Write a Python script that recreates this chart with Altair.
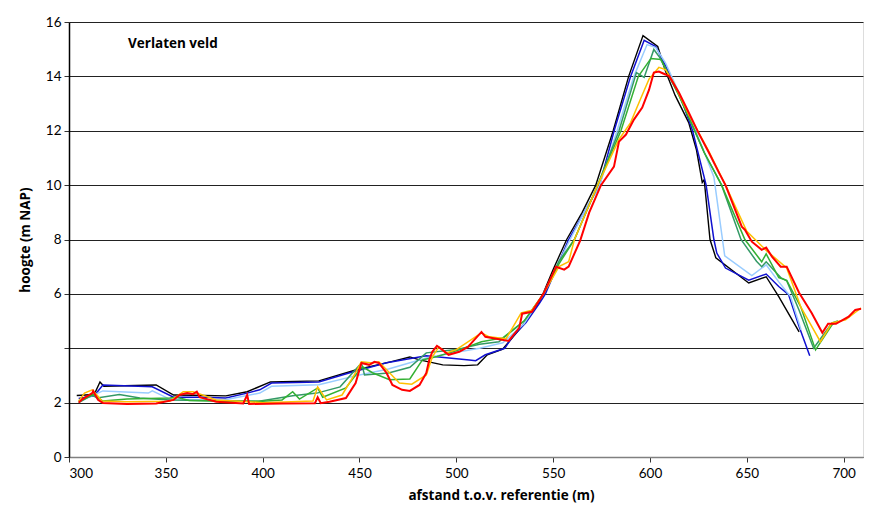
import altair as alt
import pandas as pd

# ---- data ----
series_names = ["s1", "s2", "s3", "s4", "s5", "s6", "s7"]
series_colors = ["#000000", "#1010D0", "#99CCFF", "#339966", "#33B033", "#FFC000", "#FF0000"]

black_x = [304, 313, 316, 318, 345, 354, 364, 381, 392, 404, 429, 448, 466, 476, 481, 493, 504, 511, 516, 524, 535, 543, 550, 557, 565, 572, 581, 589, 596.4, 604, 608, 613, 620, 624, 627, 628, 631, 634, 651, 660, 666.5, 677]
black_y = [2.26, 2.3, 2.76, 2.6, 2.65, 2.28, 2.27, 2.25, 2.4, 2.76, 2.8, 3.2, 3.5, 3.68, 3.57, 3.39, 3.36, 3.39, 3.76, 3.97, 4.9, 5.7, 6.9, 8.0, 9.0, 10.0, 12.0, 14.0, 15.5, 15.1, 14.2, 13.3, 12.3, 11.3, 10.1, 10.2, 8.0, 7.33, 6.4, 6.63, 5.9, 4.6]

blue_x = [305, 313, 317.5, 343, 354, 369, 381, 392, 398.5, 404.6, 429, 445, 464, 484.5, 506.7, 510, 515, 525, 529, 536, 543, 546, 558, 566, 574, 581.5, 590, 597, 603, 608, 616, 622, 629, 633, 634.5, 639, 651, 660, 666.5, 671.6, 677, 682.5]
blue_y = [2.15, 2.25, 2.65, 2.58, 2.2, 2.2, 2.17, 2.35, 2.47, 2.72, 2.76, 3.1, 3.47, 3.72, 3.57, 3.54, 3.76, 4.0, 4.42, 4.95, 5.66, 6.0, 8.0, 9.0, 10.0, 12.0, 14.0, 15.33, 15.1, 14.4, 13.2, 12.0, 10.0, 8.0, 7.5, 6.95, 6.5, 6.73, 6.27, 5.97, 4.8, 3.72]

lightblue_x = [305, 310, 317.5, 341, 343, 352, 370, 380, 398.5, 404.6, 429, 450, 465, 484.5, 500, 512, 524, 535, 545, 558, 566, 574, 583, 591.7, 598.5, 603, 608, 615, 620, 627, 633, 638.6, 652.6, 660, 666.5, 672.6, 678]
lightblue_y = [2.05, 2.2, 2.43, 2.35, 2.43, 2.13, 2.1, 2.1, 2.35, 2.6, 2.66, 3.02, 3.24, 3.64, 3.85, 4.0, 4.2, 4.9, 6.0, 7.9, 9.0, 10.0, 12.0, 14.0, 15.17, 15.06, 14.5, 13.4, 12.6, 11.4, 10.3, 7.4, 6.67, 7.07, 6.44, 5.9, 4.68]

teal_x = [305, 312, 314.5, 326, 336.6, 352, 370, 398, 415.5, 428, 440, 451, 452.6, 465, 476, 484.5, 500, 512, 522, 535, 545, 553, 561, 567, 573, 584, 593, 597, 602, 605, 610, 615, 620, 628, 637, 647, 655, 657.7, 660, 667.5, 670.6, 677, 684.5, 694, 697]
teal_y = [2.0, 2.28, 2.17, 2.3, 2.17, 2.1, 2.08, 2.05, 2.25, 2.35, 2.58, 3.46, 3.02, 3.09, 3.3, 3.83, 3.95, 4.15, 4.24, 5.0, 6.0, 7.2, 8.0, 9.0, 10.0, 12.0, 14.14, 13.96, 14.99, 14.7, 14.0, 13.3, 12.5, 11.2, 10.0, 8.0, 7.2, 7.0, 7.18, 6.6, 6.48, 5.4, 4.0, 4.93, 5.0]

green_x = [305, 312.6, 317.5, 330, 352, 355.6, 362, 380, 400, 410, 415.5, 419, 428.4, 431, 443, 450, 451.6, 456.7, 465.5, 476, 482.5, 490, 501.5, 513, 524, 535, 545, 553, 561, 567, 573, 585, 594, 600.5, 605.7, 610, 615, 620, 628, 637, 649, 657.7, 660, 666.5, 670.6, 678, 685.5, 694, 697]
green_y = [2.05, 2.3, 2.06, 2.13, 2.17, 2.2, 2.08, 2.05, 2.05, 2.1, 2.4, 2.13, 2.54, 2.2, 2.54, 3.2, 3.32, 3.1, 2.84, 2.87, 3.57, 3.7, 3.94, 4.24, 4.38, 5.0, 6.0, 7.1, 8.0, 9.0, 10.0, 12.0, 14.0, 14.66, 14.62, 14.0, 13.3, 12.5, 11.2, 10.0, 8.0, 7.18, 7.47, 6.6, 6.5, 5.5, 3.94, 4.86, 5.0]

yellow_x = [305, 308, 312, 313, 317, 330, 352, 359, 364, 369, 376, 400, 426, 428.4, 433, 441, 448, 451, 456.7, 460, 465.5, 470.6, 477, 484.5, 487.6, 491, 494.8, 500, 513, 517, 525.7, 533.5, 539, 545, 553, 558, 561, 567, 573, 584, 590, 595, 599.5, 604.6, 608, 612, 620, 630, 639, 650, 660, 670.6, 678, 688, 694, 701, 709]
yellow_y = [2.05, 2.35, 2.47, 2.4, 2.06, 2.03, 2.05, 2.4, 2.4, 2.28, 2.1, 2.0, 2.06, 2.58, 2.1, 2.28, 3.1, 3.5, 3.46, 3.5, 3.1, 2.72, 2.68, 3.02, 3.68, 4.05, 3.83, 3.95, 4.57, 4.42, 4.35, 5.3, 5.4, 6.0, 7.0, 7.18, 8.0, 9.0, 10.0, 11.68, 12.3, 13.15, 13.9, 14.33, 14.25, 13.8, 12.6, 11.3, 10.0, 8.3, 7.6, 6.95, 5.5, 4.24, 4.93, 5.05, 5.48]

red_x = [305, 307, 312, 312.5, 315, 317.5, 330, 345, 354, 357, 361, 364, 366, 367.5, 376, 390, 392, 393, 410, 427, 428.4, 430, 434.5, 443, 448, 451, 455, 457.7, 460, 464, 467, 472, 476, 481, 484.5, 486, 487.6, 490, 492.8, 496, 501.5, 506, 513, 515, 520.6, 527, 532.5, 534, 539, 545, 551.5, 555.7, 558, 564, 568.6, 574.7, 581.4, 584, 587.6, 591.7, 596, 599.5, 602, 604.6, 608, 610, 615, 620, 625, 630.4, 635.6, 639, 647.4, 649, 652.6, 657.7, 660, 663, 667.5, 670.6, 677, 683.5, 689, 692, 696, 702.6, 706, 709]
red_y = [2.0, 2.13, 2.35, 2.43, 2.1, 1.99, 1.95, 1.97, 2.1, 2.28, 2.35, 2.31, 2.4, 2.2, 2.03, 1.97, 2.28, 1.95, 1.97, 1.98, 2.2, 1.98, 2.03, 2.17, 2.72, 3.46, 3.39, 3.5, 3.46, 3.09, 2.65, 2.47, 2.43, 2.65, 3.09, 3.57, 3.87, 4.09, 3.94, 3.76, 3.87, 4.05, 4.6, 4.42, 4.35, 4.27, 4.75, 5.27, 5.34, 6.0, 7.0, 6.89, 7.0, 7.97, 8.99, 10.0, 10.68, 11.6, 11.86, 12.41, 12.85, 13.5, 14.14, 14.18, 14.07, 14.0, 13.4, 12.67, 11.93, 11.2, 10.46, 10.0, 8.47, 8.36, 7.92, 7.62, 7.7, 7.37, 7.0, 7.0, 6.04, 5.3, 4.57, 4.9, 4.9, 5.16, 5.41, 5.45]

x_ticks = [300, 350, 400, 450, 500, 550, 600, 650, 700]
y_ticks = [0, 2, 4, 6, 8, 10, 12, 14, 16]

all_x = [black_x, blue_x, lightblue_x, teal_x, green_x, yellow_x, red_x]
all_y = [black_y, blue_y, lightblue_y, teal_y, green_y, yellow_y, red_y]
widths = [1.4, 1.5, 1.5, 1.5, 1.5, 1.5, 2]

FONT = "Lato"
TFONT = "Open Sans"

xscale = alt.Scale(domain=[300, 710], nice=False, zero=False)
yscale = alt.Scale(domain=[0, 16], nice=False)

xaxis = alt.Axis(values=x_ticks, title="afstand t.o.v. referentie (m)", grid=False,
                 domainColor="#808080", domainWidth=1.5, tickColor="#333333", tickSize=5,
                 labelFontSize=13.5, labelColor="#000000", labelPadding=4, labelFont=FONT,
                 titleFontSize=13.5, titleFontWeight="bold", titleColor="#000000",
                 titleFont=TFONT, titleX=432, titleY=31)
yaxis = alt.Axis(values=y_ticks, title="hoogte (m NAP)", grid=True, gridColor="#222222",
                 gridWidth=1, domainColor="#000000", domainWidth=1.5, tickColor="#333333",
                 tickSize=5, labelFontSize=13.5, labelColor="#000000", labelPadding=3,
                 labelFont=FONT,
                 labelExpr="datum.value == 4 ? '' : datum.label",
                 titleFontSize=13.5, titleFontWeight="bold", titleColor="#000000",
                 titleFont=TFONT, titlePadding=13)

layers = []
for i, (name, col, xs, ys, w) in enumerate(zip(series_names, series_colors, all_x, all_y, widths)):
    df = pd.DataFrame({"x": xs, "y": ys, "i": list(range(len(xs)))})
    enc = dict(
        x=alt.X("x:Q", scale=xscale, axis=xaxis),
        y=alt.Y("y:Q", scale=yscale, axis=yaxis),
        order="i:Q",
    )
    layers.append(alt.Chart(df).mark_line(color=col, strokeWidth=w, clip=True).encode(**enc))

title_df = pd.DataFrame({"t": ["Verlaten veld"]})
title = alt.Chart(title_df).mark_text(
    align="left", baseline="middle", fontSize=13.5, fontWeight="bold", font=TFONT, color="#000000"
).encode(text="t:N", x=alt.value(59), y=alt.value(22))

chart = alt.layer(*layers, title).properties(
    width=794, height=435,
    autosize=alt.AutoSizeParams(type="none"),
    padding={"left": 61, "top": 14, "right": 6, "bottom": 52},
).configure_view(stroke="#808080", strokeWidth=1.5).configure(font=FONT)

chart.save("out.html", embed_options={"renderer": "svg", "actions": False})
